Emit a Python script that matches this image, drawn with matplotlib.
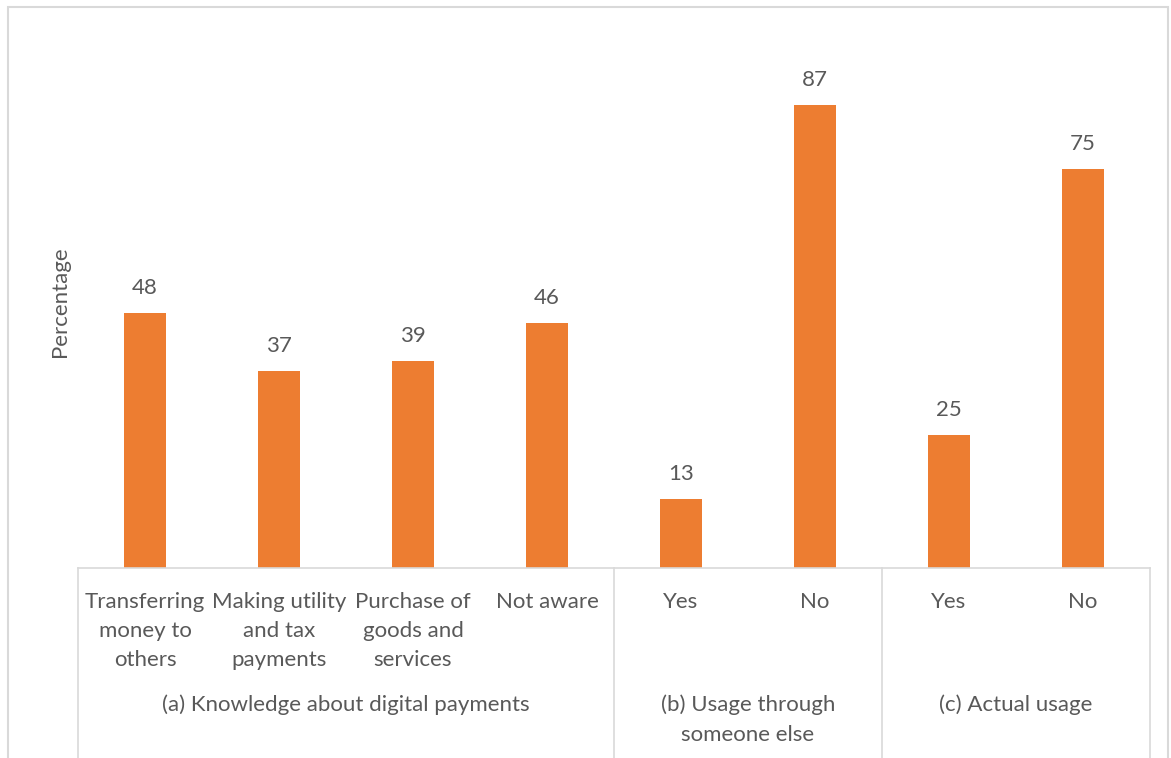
import matplotlib.pyplot as plt
from matplotlib.patches import Rectangle
from matplotlib.lines import Line2D

plt.rcParams['font.family'] = ['Lato', 'DejaVu Sans']

categories = ["Transferring\nmoney to\nothers", "Making utility\nand tax\npayments",
              "Purchase of\ngoods and\nservices", "Not aware",
              "Yes", "No", "Yes", "No"]
values = [48, 37, 39, 46, 13, 87, 25, 75]
groups = ["(a) Knowledge about digital payments", "(b) Usage through\nsomeone else", "(c) Actual usage"]
group_sizes = [4, 2, 2]

bar_color = "#ED7D31"
text_color = "#595959"
line_color = "#D9D9D9"

W, H = 1171, 758
fig = plt.figure(figsize=(W / 100, H / 100), dpi=100)

# outer chart border (bottom is cut off in the reference)
fig.add_artist(Rectangle((8 / W, -0.05), (1160 / W), (H - 7) / H + 0.05,
                         transform=fig.transFigure, fill=False,
                         edgecolor=line_color, linewidth=1.5))

ax = fig.add_axes([78 / W, (H - 568) / H, (1150 - 78) / W, (568 - 36) / H])
x = list(range(len(values)))
bars = ax.bar(x, values, width=0.31, color=bar_color, zorder=2)
for xi, v in zip(x, values):
    ax.text(xi, v + 2.8, str(v), ha="center", va="bottom", fontsize=16, color=text_color)

ax.set_xlim(-0.5, len(values) - 0.5)
ax.set_ylim(0, 100)
ax.set_yticks([])
ax.set_xticks([])
for s in ["top", "right", "left"]:
    ax.spines[s].set_visible(False)
ax.spines["bottom"].set_color(line_color)
ax.spines["bottom"].set_linewidth(1.2)

ax.set_ylabel("Percentage", fontsize=16, color=text_color, labelpad=6)

# first level category labels
for xi, lab in zip(x, categories):
    ax.annotate(lab, xy=(xi, 0), xycoords="data", xytext=(0, -17), textcoords="offset points",
                ha="center", va="top", fontsize=16, color=text_color, linespacing=1.58,
                annotation_clip=False)

# group labels and separators
start = 0
bounds = [-0.5]
for g, n in zip(groups, group_sizes):
    center = start + (n - 1) / 2
    ax.annotate(g, xy=(center, 0), xycoords="data", xytext=(0, -91), textcoords="offset points",
                ha="center", va="top", fontsize=16, color=text_color, linespacing=1.6,
                annotation_clip=False)
    start += n
    bounds.append(start - 0.5)

for b in bounds:
    ax.add_line(Line2D([b, b], [0, -40], color=line_color, linewidth=1.2, clip_on=False))

fig.savefig("out.png", dpi=100)
